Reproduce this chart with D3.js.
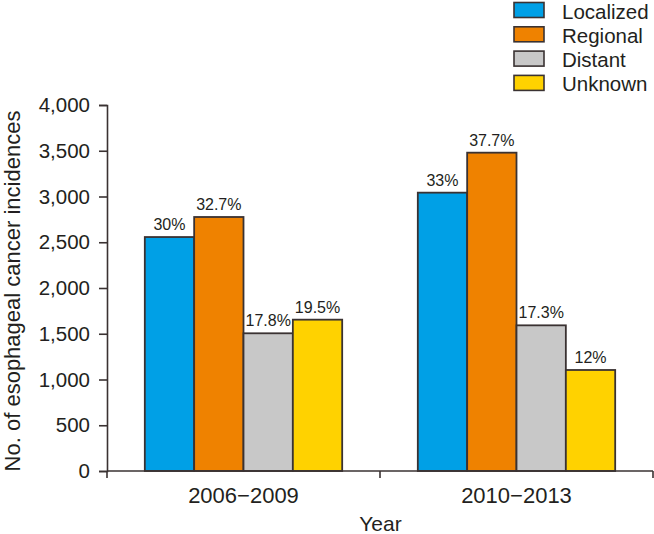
<!DOCTYPE html>
<html>
<head>
<meta charset="utf-8">
<script src="https://cdn.jsdelivr.net/npm/d3@7"></script>
<style>
  body { margin: 0; background: #fff; }
  svg { display: block; }
  text { font-family: Arial, "Liberation Sans", Helvetica, sans-serif; fill: #231f20; }
</style>
</head>
<body>
<svg id="chart" width="654" height="534"></svg>
<script>
// Data
const years = ["2006\u22122009", "2010\u22122013"];
const stages = ["Localized", "Regional", "Distant", "Unknown"];
const localized = [2557, 3042];
const regional = [2776, 3479];
const distant = [1505, 1592];
const unknown = [1654, 1104];
const pctLocalized = ["30%", "33%"];
const pctRegional = ["32.7%", "37.7%"];
const pctDistant = ["17.8%", "17.3%"];
const pctUnknown = ["19.5%", "12%"];
const yTicks = [0, 500, 1000, 1500, 2000, 2500, 3000, 3500, 4000];

const seriesValues = [localized, regional, distant, unknown];
const seriesPct = [pctLocalized, pctRegional, pctDistant, pctUnknown];
const colors = ["#00a0e6", "#ef8200", "#c8c8c8", "#ffd200"];
const strokeCol = "#3a3232";

const svg = d3.select("#chart");
const mLeft = 107, mRight = 653, mTop = 105, mBottom = 471;

const x0 = d3.scaleBand().domain(years).range([mLeft, mRight])
  .paddingInner(0.277).paddingOuter(0.1385);
const x1 = d3.scaleBand().domain(stages).range([0, x0.bandwidth()]);
const y = d3.scaleLinear().domain([0, 4000]).range([mBottom, mTop]);

// Bars
const rows = [];
years.forEach((yr, i) => {
  stages.forEach((st, j) => {
    rows.push({ yr, st, v: seriesValues[j][i], p: seriesPct[j][i], c: colors[j] });
  });
});

const g = svg.append("g");
g.selectAll("rect.bar").data(rows).enter().append("rect")
  .attr("class", "bar")
  .attr("x", d => x0(d.yr) + x1(d.st))
  .attr("y", d => y(d.v))
  .attr("width", x1.bandwidth())
  .attr("height", d => y(0) - y(d.v))
  .attr("fill", d => d.c)
  .attr("stroke", strokeCol)
  .attr("stroke-width", 1.8);

g.selectAll("text.pct").data(rows).enter().append("text")
  .attr("class", "pct")
  .attr("x", d => x0(d.yr) + x1(d.st) + x1.bandwidth() / 2)
  .attr("y", d => y(d.v) - 7)
  .attr("text-anchor", "middle")
  .attr("font-size", 16)
  .text(d => d.p);

// Y axis
const yAxis = d3.axisLeft(y).tickValues(yTicks).tickSize(8).tickPadding(9)
  .tickFormat(d3.format(","));
const ya = svg.append("g").attr("transform", `translate(${mLeft},0)`).call(yAxis);
ya.select(".domain").attr("stroke", strokeCol).attr("stroke-width", 1.6);
ya.selectAll(".tick line").attr("stroke", strokeCol).attr("stroke-width", 1.6);
ya.selectAll(".tick text").attr("font-size", 20.5).attr("fill", "#231f20")
  .style("font-family", "Arial, 'Liberation Sans', sans-serif");

// X axis: line, ticks at band boundaries, labels at band centers
const xa = svg.append("g");
xa.append("line").attr("x1", mLeft).attr("x2", mRight).attr("y1", mBottom).attr("y2", mBottom)
  .attr("stroke", strokeCol).attr("stroke-width", 1.6);
const bounds = [x0.range()[0]].concat(years.map(d => x0(d) + x0.bandwidth() + x0.step() * x0.paddingInner() / 2));
bounds[bounds.length - 1] = mRight;
xa.selectAll("line.xt").data(bounds).enter().append("line")
  .attr("class", "xt")
  .attr("x1", d => d).attr("x2", d => d)
  .attr("y1", mBottom).attr("y2", mBottom + 7)
  .attr("stroke", strokeCol).attr("stroke-width", 1.6);
xa.selectAll("text.xl").data(years).enter().append("text")
  .attr("class", "xl")
  .attr("x", d => x0(d) + x0.bandwidth() / 2)
  .attr("y", 503)
  .attr("text-anchor", "middle")
  .attr("font-size", 22)
  .text(d => d);

// Axis titles
svg.append("text")
  .attr("x", (mLeft + mRight) / 2 + 0.5)
  .attr("y", 531)
  .attr("text-anchor", "middle")
  .attr("font-size", 21)
  .text("Year");

svg.append("text")
  .attr("transform", "translate(20,291) rotate(-90)")
  .attr("text-anchor", "middle")
  .attr("font-size", 22)
  .text("No. of esophageal cancer incidences");

// Legend
const lg = svg.append("g").attr("transform", "translate(514,2.5)");
const li = lg.selectAll("g").data(stages).enter().append("g")
  .attr("transform", (d, i) => `translate(0,${i * 24.3})`);
li.append("rect").attr("width", 30).attr("height", 15)
  .attr("fill", (d, i) => colors[i]).attr("stroke", strokeCol).attr("stroke-width", 1.6);
li.append("text").attr("x", 48).attr("y", 16).attr("font-size", 20.5).text(d => d);
</script>
</body>
</html>
